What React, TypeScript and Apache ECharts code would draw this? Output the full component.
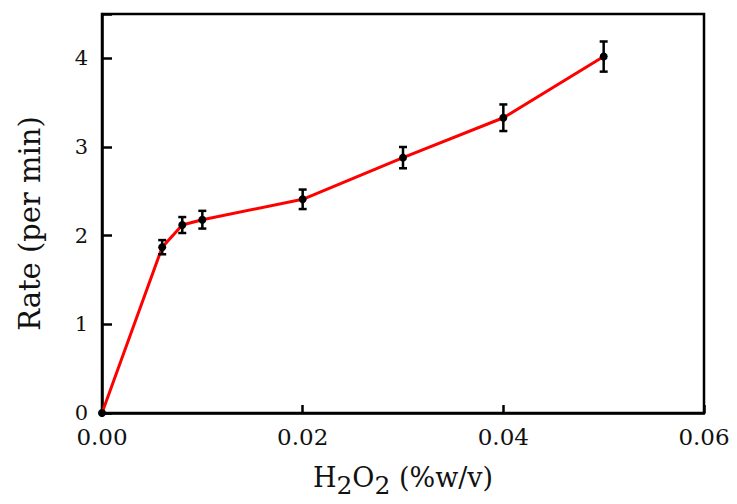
import React, { useEffect, useRef } from "react";
import * as echarts from "echarts";

const concentrations = [0, 0.006, 0.008, 0.01, 0.02, 0.03, 0.04, 0.05];
const rates = [0, 1.87, 2.12, 2.18, 2.41, 2.88, 3.33, 4.02];
const errors = [0, 0.08, 0.09, 0.1, 0.11, 0.12, 0.15, 0.17];
const yTicks = [0, 1, 2, 3, 4];
const xTicks = [0, 0.02, 0.04, 0.06];

const FONT = "DejaVu Serif";

export default function App() {
  const ref = useRef<HTMLDivElement>(null);

  useEffect(() => {
    if (!ref.current) return;
    const chart = echarts.init(ref.current, undefined, { renderer: "svg" });
    const lineData = concentrations.map((x, i) => [x, rates[i]]);
    const errData = concentrations.map((x, i) => [x, rates[i], errors[i]]);

    chart.setOption({
      animation: false,
      backgroundColor: "#fff",
      grid: {
        left: 102,
        right: 33,
        top: 14,
        bottom: 91,
        show: true,
        borderColor: "#000",
        borderWidth: 2.5,
        backgroundColor: "transparent",
      },
      xAxis: {
        type: "value",
        min: xTicks[0],
        max: xTicks[xTicks.length - 1],
        interval: 0.02,
        axisLine: { show: true, onZero: false, lineStyle: { color: "#000", width: 2.5 } },
        axisTick: { show: true, inside: true, length: 8, lineStyle: { color: "#000", width: 2.5 } },
        splitLine: { show: false },
        axisLabel: {
          color: "#111",
          fontFamily: FONT,
          fontSize: 23,
          lineHeight: 18,
          margin: 15,
          formatter: (v: number) => v.toFixed(2),
        },
        name: "{a|H}{s|2}{a|O}{s|2}{a| (%w/v)}",
        nameLocation: "middle",
        nameGap: 44,
        nameTextStyle: {
          rich: {
            a: { fontFamily: FONT, fontSize: 27, color: "#111" },
            s: { fontFamily: FONT, fontSize: 25, color: "#111", padding: [16, 0, 0, 0] },
          },
        },
      },
      yAxis: {
        type: "value",
        min: yTicks[0],
        max: 4.5,
        interval: 1,
        axisLine: { show: true, onZero: false, lineStyle: { color: "#000", width: 2.5 } },
        axisTick: { show: true, inside: true, length: 10, lineStyle: { color: "#000", width: 2.5 } },
        splitLine: { show: false },
        axisLabel: {
          color: "#111",
          fontFamily: FONT,
          fontSize: 21,
          lineHeight: 16,
          margin: 14,
          formatter: (v: number) => (yTicks.includes(v) ? String(v) : ""),
        },
        name: "Rate (per min)",
        nameLocation: "middle",
        nameRotate: 90,
        nameGap: 58,
        nameTextStyle: {
          fontFamily: FONT,
          fontSize: 29,
          color: "#111",
          padding: [0, 20, 0, 0],
        },
      },
      series: [
        {
          type: "line",
          data: lineData,
          symbol: "circle",
          symbolSize: 8,
          itemStyle: { color: "#000" },
          lineStyle: { color: "#ff0000", width: 3 },
          z: 2,
        },
        {
          type: "custom",
          data: errData,
          encode: { x: 0, y: 1 },
          z: 3,
          renderItem: (params: any, api: any) => {
            const x = api.value(0);
            const y = api.value(1);
            const e = api.value(2);
            if (!e) return null;
            const hi = api.coord([x, y + e]);
            const lo = api.coord([x, y - e]);
            const w = 4;
            const style = { stroke: "#000", lineWidth: 2.5 };
            return {
              type: "group",
              children: [
                { type: "line", shape: { x1: hi[0], y1: hi[1], x2: lo[0], y2: lo[1] }, style },
                { type: "line", shape: { x1: hi[0] - w, y1: hi[1], x2: hi[0] + w, y2: hi[1] }, style },
                { type: "line", shape: { x1: lo[0] - w, y1: lo[1], x2: lo[0] + w, y2: lo[1] }, style },
              ],
            };
          },
        },
      ],
    });

    return () => chart.dispose();
  }, []);

  return <div ref={ref} style={{ width: 737, height: 504, position: "absolute", left: 0, top: 0 }} />;
}
